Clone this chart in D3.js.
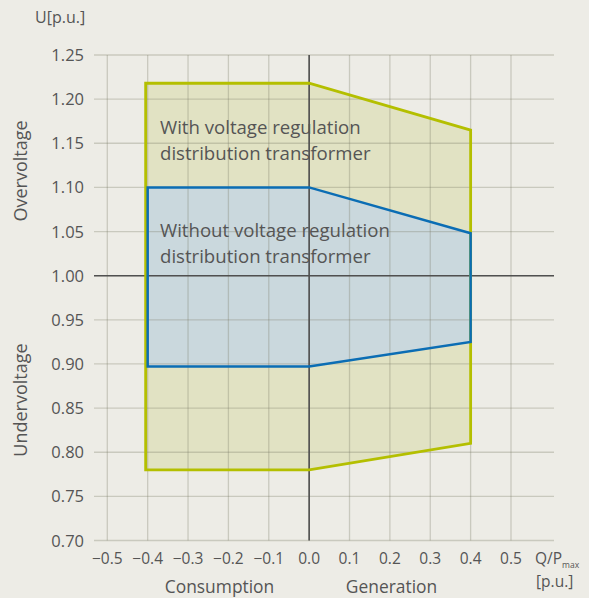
<!DOCTYPE html>
<html>
<head>
<meta charset="utf-8">
<script src="https://cdn.jsdelivr.net/npm/d3@7"></script>
<style>
  body { margin: 0; background: #edece6; }
  svg text { font-family: "Open Sans", sans-serif; fill: #555; }
</style>
</head>
<body>
<div id="chart"></div>
<script>
// voltage band vs reactive power, both in p.u.
const xTicks = [-0.5, -0.4, -0.3, -0.2, -0.1, 0.0, 0.1, 0.2, 0.3, 0.4, 0.5];
const yTicks = [0.70, 0.75, 0.80, 0.85, 0.90, 0.95, 1.00, 1.05, 1.10, 1.15, 1.20, 1.25];

// with voltage regulation distribution transformer
const withQ = [-0.405, 0.0, 0.4, 0.4, 0.0, -0.405];
const withU = [1.218, 1.218, 1.165, 0.810, 0.780, 0.780];

// without
const withoutQ = [-0.4, 0.0, 0.4, 0.4, 0.0, -0.4];
const withoutU = [1.10, 1.10, 1.048, 0.925, 0.897, 0.897];

const w = 589, h = 598;
const svg = d3.select("#chart").append("svg")
    .attr("width", w)
    .attr("height", h);

const xScale = d3.scaleLinear().domain([-0.5, 0.5]).range([107.3, 511]);
const yScale = d3.scaleLinear().domain([0.70, 1.25]).range([540.5, 55]);

const xLeft = 94, xRight = 554;

function poly(qs, us) {
    return qs.map((q, i) => [xScale(q), yScale(us[i])].join(",")).join(" ");
}

// area fills
svg.append("polygon")
    .attr("points", poly(withQ, withU))
    .attr("fill", "#e1e2c3");
svg.append("polygon")
    .attr("points", poly(withoutQ, withoutU))
    .attr("fill", "#cad8dd");

// grid on top of the fills
let grid = svg.append("g")
    .attr("stroke", "rgb(120,120,100)")
    .attr("stroke-opacity", 0.3)
    .attr("stroke-width", 1.3);

grid.selectAll("line.h")
    .data(yTicks)
    .enter().append("line")
    .attr("x1", xLeft).attr("x2", xRight)
    .attr("y1", d => yScale(d)).attr("y2", d => yScale(d));

grid.selectAll("line.v")
    .data(xTicks)
    .enter().append("line")
    .attr("x1", d => xScale(d)).attr("x2", d => xScale(d))
    .attr("y1", yScale(1.25)).attr("y2", yScale(0.70));

// zero axes
svg.append("line")
    .attr("x1", xScale(0)).attr("x2", xScale(0))
    .attr("y1", yScale(1.25)).attr("y2", yScale(0.70))
    .attr("stroke", "#505050").attr("stroke-width", 1.6);
svg.append("line")
    .attr("x1", xLeft).attr("x2", xRight)
    .attr("y1", yScale(1.0)).attr("y2", yScale(1.0))
    .attr("stroke", "#505050").attr("stroke-width", 1.6);

// outlines
svg.append("polygon")
    .attr("points", poly(withQ, withU))
    .attr("fill", "none")
    .attr("stroke", "#b4bf00").attr("stroke-width", 2.8);
svg.append("polygon")
    .attr("points", poly(withoutQ, withoutU))
    .attr("fill", "none")
    .attr("stroke", "#0b6db4").attr("stroke-width", 2.5);

// tick labels
svg.append("g").selectAll("text")
    .data(yTicks)
    .enter().append("text")
    .attr("x", 84)
    .attr("y", d => yScale(d) + 6)
    .attr("text-anchor", "end")
    .style("font-size", "16.5px")
    .text(d => d.toFixed(2));

svg.append("g").selectAll("text")
    .data(xTicks)
    .enter().append("text")
    .attr("x", d => xScale(d))
    .attr("y", 563.5)
    .attr("text-anchor", "middle")
    .style("font-size", "15.5px")
    .text(d => (d < 0 ? "\u2212" : "") + Math.abs(d).toFixed(1));

// axis titles
svg.append("text").attr("x", 35).attr("y", 23)
    .style("font-size", "16px").text("U[p.u.]");

let qp = svg.append("text").attr("x", 535).attr("y", 563.5).style("font-size", "15.5px");
qp.append("tspan").text("Q/P");
qp.append("tspan").attr("dy", 4).style("font-size", "8.5px").text("max");
svg.append("text").attr("x", 536).attr("y", 587)
    .style("font-size", "15.5px").text("[p.u.]");

svg.append("text").attr("x", 219.5).attr("y", 593)
    .attr("text-anchor", "middle").style("font-size", "17.4px").text("Consumption");
svg.append("text").attr("x", 391.5).attr("y", 593)
    .attr("text-anchor", "middle").style("font-size", "17.4px").text("Generation");

svg.append("text")
    .attr("transform", "translate(27,171) rotate(-90)")
    .attr("text-anchor", "middle").style("font-size", "18px").text("Overvoltage");
svg.append("text")
    .attr("transform", "translate(27,400) rotate(-90)")
    .attr("text-anchor", "middle").style("font-size", "18px").text("Undervoltage");

// annotations
const notes = [
    ["With voltage regulation", 134],
    ["distribution transformer", 160],
    ["Without voltage regulation", 237],
    ["distribution transformer", 263]
];
svg.append("g").selectAll("text")
    .data(notes)
    .enter().append("text")
    .attr("x", 160)
    .attr("y", d => d[1])
    .style("font-size", "18.6px")
    .text(d => d[0]);
</script>
</body>
</html>
